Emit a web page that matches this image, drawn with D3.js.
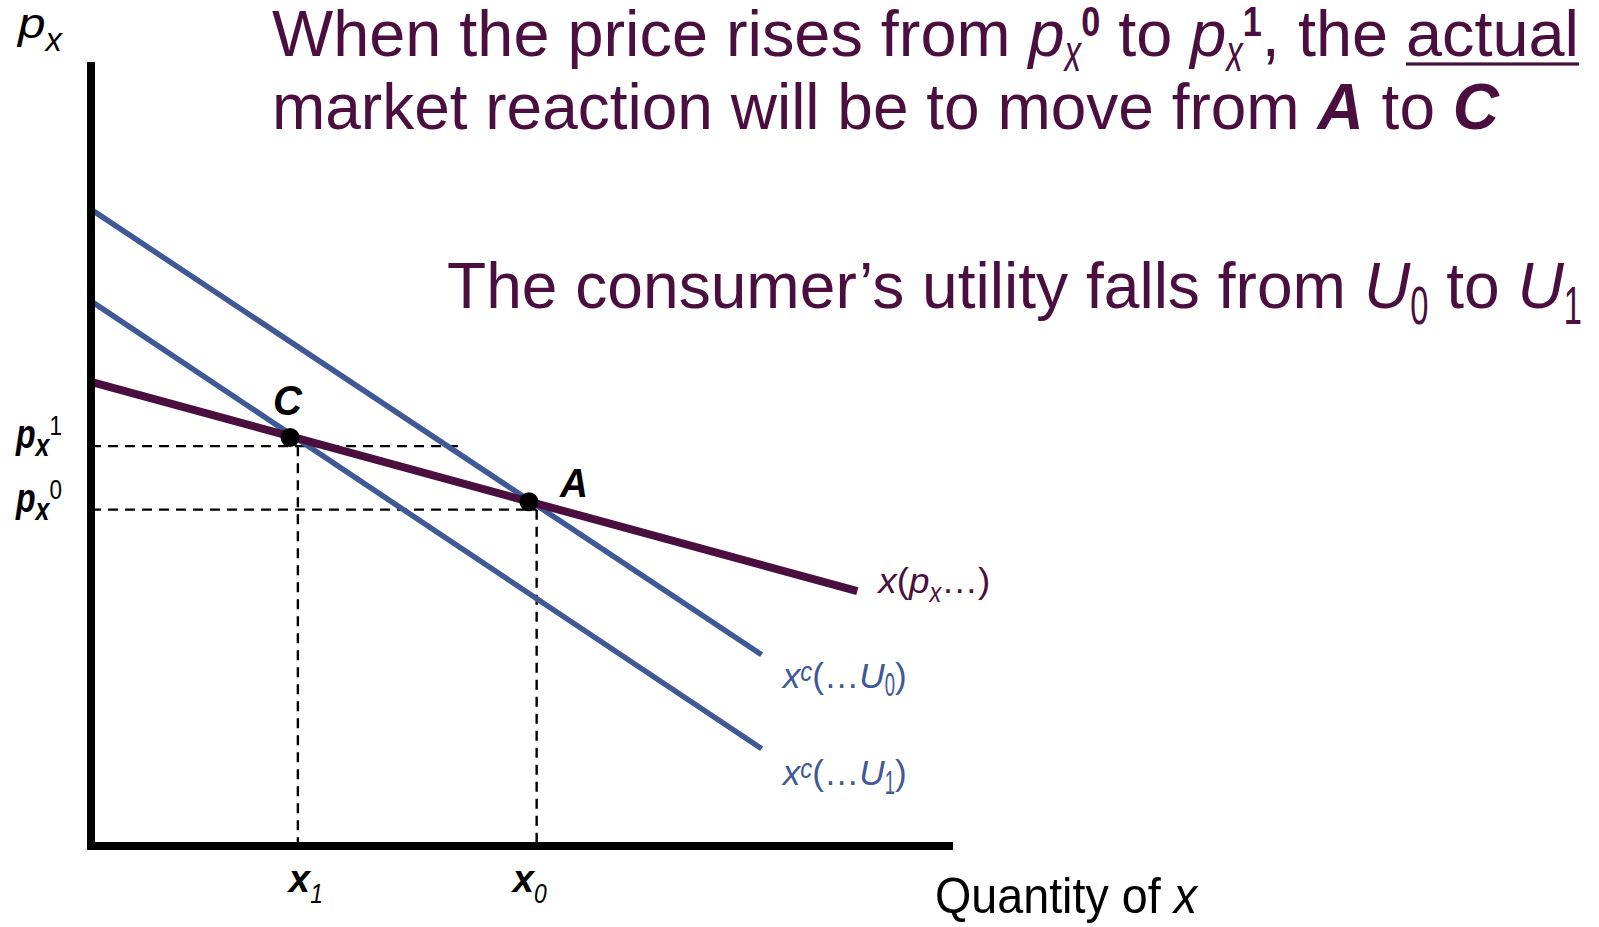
<!DOCTYPE html>
<html>
<head>
<meta charset="utf-8">
<script src="https://cdn.jsdelivr.net/npm/d3@7"></script>
<style>
  html, body { margin: 0; padding: 0; background: #fff; }
  svg { display: block; }
  text { font-family: "Liberation Sans", Arial, sans-serif; white-space: pre; }
</style>
</head>
<body>
<svg id="chart" width="1599" height="927"></svg>
<script>
// demand and compensated demand curves (quantity q, price p)
var demand = [{q: 0, p: 5.92}, {q: 8.89, p: 3.25}];
var compU0 = [{q: 0, p: 8.12}, {q: 7.78, p: 2.44}];
var compU1 = [{q: 0, p: 6.95}, {q: 7.78, p: 1.24}];

// points on the demand curve
var points = [
    {name: 'C', q: 2.31, p: 5.21},
    {name: 'A', q: 5.08, p: 4.39}
];

// guide levels
var priceLevels = [
    {name: '1', p: 5.10, qEnd: 4.26},
    {name: '0', p: 4.29, qEnd: 5.17}
];
var qtyLevels = [
    {name: '1', q: 2.40, p: 5.10},
    {name: '0', q: 5.17, p: 4.29}
];

// rich text segments: i italic, b bold, fs size factor, dy shift (em), sx squeeze, u underline
var sub = function(t, o) { return Object.assign({t: t, fs: 0.85, dy: 0.25, sx: 0.6}, o || {}); };
var titleLine1 = [
    {t: 'When the price rises from '}, {t: 'p', i: 1}, sub('x', {i: 1, dy: 0.23}),
    {t: '0', b: 1, fs: 0.66, dy: -0.31, sx: 0.8},
    {t: ' to '}, {t: 'p', i: 1}, sub('x', {i: 1, dy: 0.23}),
    {t: '1', b: 1, fs: 0.66, dy: -0.31, sx: 0.8},
    {t: ', the '}, {t: 'actual', u: 1}
];
var titleLine2 = [
    {t: 'market reaction will be to move from '}, {t: 'A', b: 1, i: 1},
    {t: ' to '}, {t: 'C', b: 1, i: 1}
];
var titleLine3 = [
    {t: 'The consumer\u2019s utility falls from '}, {t: 'U', i: 1}, sub('0'),
    {t: ' to '}, {t: 'U', i: 1}, sub('1')
];
var demandLabel = [{t: 'x', i: 1}, {t: '('}, {t: 'p', i: 1}, sub('x', {i: 1, fs: 0.8, sx: 0.8}), {t: '\u2026)'}];
var u0Label = [{t: 'x', i: 1}, {t: 'c', i: 1, fs: 0.8, dy: -0.2, sx: 0.85}, {t: '(\u2026'}, {t: 'U', i: 1}, sub('0', {fs: 0.95, sx: 0.55}), {t: ')'}];
var u1Label = [{t: 'x', i: 1}, {t: 'c', i: 1, fs: 0.8, dy: -0.2, sx: 0.85}, {t: '(\u2026'}, {t: 'U', i: 1}, sub('1', {fs: 0.95, sx: 0.55}), {t: ')'}];
var yAxisLabel = [{t: 'p', i: 1}, sub('x', {i: 1, fs: 0.78, dy: 0.3, sx: 0.85})];
var xAxisLabel = [{t: 'Quantity of '}, {t: 'x', i: 1}];

var purple = '#4a0f3e', blue = '#3f5996';

var svg = d3.select('#chart');
var x = d3.scaleLinear().domain([0, 10]).range([91, 953]);
var y = d3.scaleLinear().domain([0, 10]).range([846, 62]);

function richText(segs, x0, base, size, fill, width) {
    var g = svg.append('g');
    var inner = g.append('g');
    var cx = x0;
    segs.forEach(function(s) {
        var fs = size * (s.fs || 1);
        var t = inner.append('text')
            .attr('x', cx)
            .attr('y', base + size * (s.dy || 0))
            .attr('font-size', fs)
            .attr('fill', fill)
            .attr('font-style', s.i ? 'italic' : 'normal')
            .attr('font-weight', s.b ? 'bold' : 'normal')
            .text(s.t);
        var sx = s.sx || 1;
        if (sx !== 1) {
            t.attr('transform', 'translate(' + cx + ',0) scale(' + sx + ',1) translate(' + (-cx) + ',0)');
        }
        var w = t.node().getComputedTextLength() * sx;
        if (s.u) {
            inner.append('rect')
                .attr('x', cx).attr('y', base + size * 0.1)
                .attr('width', w).attr('height', size * 0.05)
                .attr('fill', fill);
        }
        cx += w;
    });
    if (width) {
        var k = width / (cx - x0);
        g.attr('transform', 'translate(' + x0 + ',0) scale(' + k + ',1) translate(' + (-x0) + ',0)');
    }
    return g;
}

// curves
var line = d3.line().x(function(d) { return x(d.q); }).y(function(d) { return y(d.p); });

// dashed guides
priceLevels.forEach(function(d) {
    svg.append('line')
        .attr('x1', x(0)).attr('x2', x(d.qEnd))
        .attr('y1', y(d.p)).attr('y2', y(d.p))
        .attr('stroke', '#000').attr('stroke-width', 2.4)
        .attr('stroke-dasharray', '10,7');
});
qtyLevels.forEach(function(d) {
    svg.append('line')
        .attr('x1', x(d.q)).attr('x2', x(d.q))
        .attr('y1', y(d.p)).attr('y2', y(0))
        .attr('stroke', '#000').attr('stroke-width', 2.4)
        .attr('stroke-dasharray', '10,7');
});

[compU0, compU1].forEach(function(c) {
    svg.append('path')
        .attr('d', line(c))
        .attr('fill', 'none')
        .attr('stroke', blue)
        .attr('stroke-width', 5.5);
});
svg.append('path')
    .attr('d', line(demand))
    .attr('fill', 'none')
    .attr('stroke', purple)
    .attr('stroke-width', 8);

// axes
svg.append('line')
    .attr('x1', x(0)).attr('x2', x(0))
    .attr('y1', y(10)).attr('y2', y(0) + 4)
    .attr('stroke', '#000').attr('stroke-width', 8);
svg.append('line')
    .attr('x1', x(0) - 4).attr('x2', x(10))
    .attr('y1', y(0)).attr('y2', y(0))
    .attr('stroke', '#000').attr('stroke-width', 8);

// points
svg.selectAll('circle.pt')
    .data(points)
    .enter().append('circle')
    .attr('class', 'pt')
    .attr('cx', function(d) { return x(d.q); })
    .attr('cy', function(d) { return y(d.p); })
    .attr('r', 9.5)
    .attr('fill', '#000');
richText([{t: 'C', b: 1, i: 1}], x(points[0].q) - 17, y(points[0].p) - 23, 42, '#000', 29);
richText([{t: 'A', b: 1, i: 1}], x(points[1].q) + 31, y(points[1].p) - 5, 41, '#000', 28);

// tick labels
priceLevels.forEach(function(d) {
    richText([{t: 'p', b: 1, i: 1}, {t: 'x', b: 1, i: 1, fs: 0.78, dy: 0.2},
        {t: d.name, fs: 0.7, dy: -0.32}], 16, y(d.p) + 2, 40, '#000', 46);
});
qtyLevels.forEach(function(d, i) {
    richText([{t: 'x', b: 1, i: 1}, {t: d.name, i: 1, fs: 0.75, dy: 0.28, sx: 0.8}],
        x(d.q) + (i === 0 ? -9 : -24), 892, 38, '#000', 34);
});

// axis titles
richText(yAxisLabel, 18, 38, 42, '#000', 44);
richText(xAxisLabel, 935, 913, 50, '#000', 262);

// curve labels
richText(demandLabel, x(demand[1].q) + 21, y(demand[1].p) + 2, 35, purple, 112);
richText(u0Label, x(compU0[1].q) + 21, y(compU0[1].p) + 33, 35, blue, 124);
richText(u1Label, x(compU1[1].q) + 21, y(compU1[1].p) + 36, 35, blue, 124);

// annotation text
richText(titleLine1, 272, 56, 64, purple, 1307);
richText(titleLine2, 272, 129, 64, purple, 1227);
richText(titleLine3, 447, 308, 64, purple, 1135);
</script>
</body>
</html>
